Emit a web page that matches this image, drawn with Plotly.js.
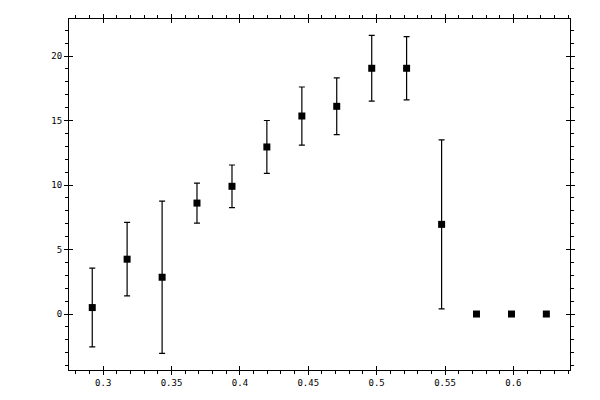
<!DOCTYPE html>
<html>
<head>
<meta charset="utf-8">
<script src="https://cdn.plot.ly/plotly-3.0.1.min.js"></script>
<style>
  html, body { margin: 0; padding: 0; background: #fff; }
  #chart { width: 600px; height: 400px; }
</style>
</head>
<body>
<div id="chart"></div>
<script>
    const xValues = [0.2920, 0.3175, 0.3431, 0.3686, 0.3942, 0.4197, 0.4453,
                     0.4708, 0.4964, 0.5219, 0.5475, 0.5730, 0.5986, 0.6241];
    const yValues = [0.5, 4.25, 2.85, 8.6, 9.9, 12.95, 15.35,
                     16.1, 19.05, 19.05, 6.95, 0, 0, 0];
    const yErrors = [3.05, 2.85, 5.9, 1.55, 1.65, 2.05, 2.25,
                     2.2, 2.55, 2.45, 6.55, 0, 0, 0];

    const xRange = [0.275, 0.6414];
    const yRange = [-4.34, 22.87];

    const tickFont = { family: 'DejaVu Sans Mono, monospace', size: 9, color: '#000' };

    const traces = [
        {
            x: xValues,
            y: yValues,
            type: 'scatter',
            mode: 'markers',
            marker: { symbol: 'square', size: 7, color: '#000' },
            error_y: {
                type: 'data',
                array: yErrors,
                visible: true,
                color: '#000',
                thickness: 1.2,
                width: 3
            },
            hoverinfo: 'none'
        },
        // empty trace so the overlay axes (inner tick halves) get drawn
        { x: [], y: [], xaxis: 'x2', yaxis: 'y2', type: 'scatter', hoverinfo: 'none' }
    ];

    const baseX = {
        range: xRange,
        dtick: 0.05,
        showgrid: false,
        zeroline: false,
        showline: true,
        linecolor: '#000',
        linewidth: 1,
        mirror: 'ticks',
        tickcolor: '#000',
        tickwidth: 1,
        ticklen: 4
    };
    const baseY = {
        range: yRange,
        dtick: 5,
        showgrid: false,
        zeroline: false,
        showline: true,
        linecolor: '#000',
        linewidth: 1,
        mirror: 'ticks',
        tickcolor: '#000',
        tickwidth: 1,
        ticklen: 4
    };

    const layout = {
        width: 600,
        height: 400,
        margin: { l: 69, r: 30, t: 19, b: 30 },
        paper_bgcolor: '#fff',
        plot_bgcolor: '#fff',
        showlegend: false,
        xaxis: Object.assign({}, baseX, {
            ticks: 'outside',
            tickfont: tickFont,
            minor: { dtick: 0.01, ticks: 'outside', ticklen: 3, tickcolor: '#000', showgrid: false }
        }),
        yaxis: Object.assign({}, baseY, {
            ticks: 'outside',
            tickfont: tickFont,
            minor: { dtick: 1, ticks: 'outside', ticklen: 3, tickcolor: '#000', showgrid: false }
        }),
        xaxis2: Object.assign({}, baseX, {
            overlaying: 'x',
            ticks: 'inside',
            showticklabels: false
        }),
        yaxis2: Object.assign({}, baseY, {
            overlaying: 'y',
            ticks: 'inside',
            showticklabels: false
        })
    };

    Plotly.newPlot('chart', traces, layout, { staticPlot: true, displayModeBar: false });
</script>
</body>
</html>
